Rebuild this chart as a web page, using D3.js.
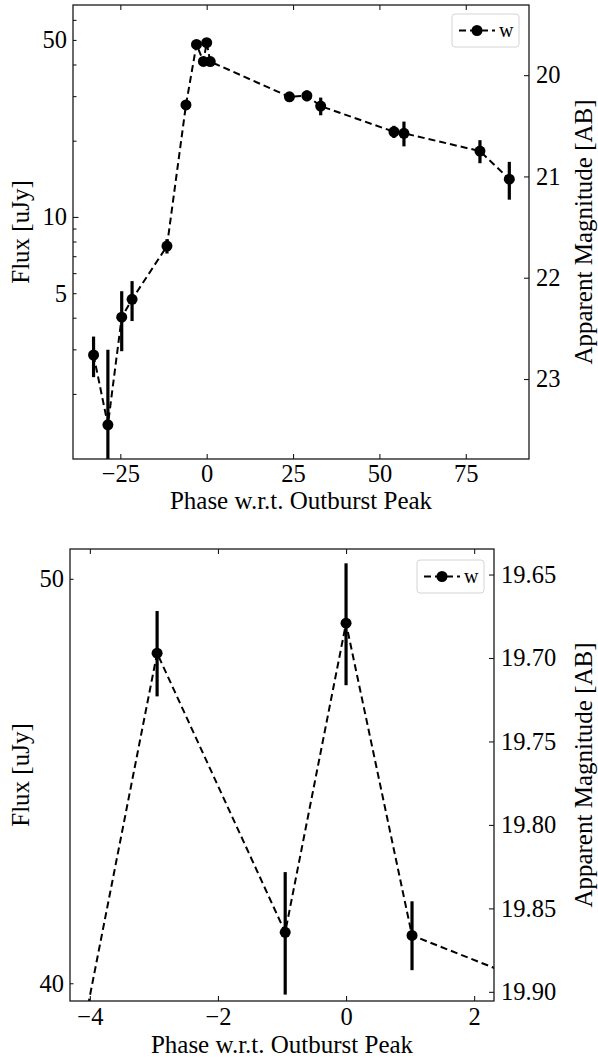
<!DOCTYPE html>
<html>
<head>
<meta charset="utf-8">
<script src="https://cdn.jsdelivr.net/npm/d3@7"></script>
<style>
  body { margin: 0; background: #fff; }
  svg text { font-family: "Liberation Serif", "Times New Roman", serif; fill: #000; }
</style>
</head>
<body>
<svg id="chart" width="598" height="1058"></svg>
<script>
// w-band light curve around the outburst (phase in days, flux in uJy)
const phase   = [-32.75, -28.6, -24.6, -21.6, -11.5, -6.0, -2.95, -0.95, 0.0, 1.03, 23.95, 29.0, 33.0, 54.2, 57.1, 79.1, 87.6];
const flux    = [2.85, 1.51, 4.02, 4.73, 7.67, 27.7, 47.99, 41.14, 48.79, 41.07, 29.8, 30.1, 27.4, 21.7, 21.4, 18.2, 14.1];
const fluxErr = [0.52, 1.48, 1.07, 0.85, 0.5, 0.9, 1.13, 1.39, 1.64, 0.78, 0.8, 1.5, 2.2, 1.2, 2.4, 1.9, 2.4];
const bandLabel = "w";

// full light curve panel
const xTicksFull = [-25, 0, 25, 50, 75];
const fluxTicksFull = [2, 3, 4, 5, 6, 7, 8, 9, 10, 20, 30, 40, 50, 60];
const fluxLabelsFull = [5, 10, 50];
const fluxMajorFull = [10];
const magTicksFull = [20, 21, 22, 23];

// zoom on the peak
const xTicksPeak = [-4, -2, 0, 2];
const fluxTicksPeak = [40, 50];
const fluxLabelsPeak = [40, 50];
const fluxMajorPeak = [];
const magTicksPeak = [19.65, 19.70, 19.75, 19.80, 19.85, 19.90];

const ZP = 23.9; // AB zero point for uJy
const toMag = f => ZP - 2.5 * Math.log10(f);

const data = phase.map((p, i) => ({ p, f: flux[i], e: fluxErr[i] }));

const panels = [
  { id: "full", box: { l: 73, r: 529, t: 5, b: 459 }, xDom: [-38.7, 93.3], yDom: [1.107, 68.7],
    xTicks: xTicksFull, yTicks: fluxTicksFull, yLabels: fluxLabelsFull, yMajor: fluxMajorFull,
    magTicks: magTicksFull, magFmt: d3.format("d"), xTickPad: 6, xLabelY: 509, legend: { x: 452, y: 14 } },
  { id: "peak", box: { l: 70, r: 494, t: 549, b: 1001 }, xDom: [-4.31, 2.31], yDom: [39.61, 50.83],
    xTicks: xTicksPeak, yTicks: fluxTicksPeak, yLabels: fluxLabelsPeak, yMajor: fluxMajorPeak,
    magTicks: magTicksPeak, magFmt: d3.format(".2f"), xTickPad: 7, xLabelY: 1053, legend: { x: 417, y: 560 } }
];

const svg = d3.select("#chart");
const FS = 24.5;     // tick labels
const FS_T = 25;     // axis titles
const ink = "#1a1a1a";

function styleAxis(g) {
  g.select(".domain").remove();
  g.selectAll(".tick line").attr("stroke", ink).attr("stroke-width", 1.1);
  g.selectAll(".tick text").attr("font-size", FS).attr("fill", "#000")
    .style("font-family", '"Liberation Serif", "Times New Roman", serif');
}

panels.forEach(pn => {
  const { l, r, t, b } = pn.box;
  const x = d3.scaleLinear().domain(pn.xDom).range([l, r]);
  const y = d3.scaleLog().domain(pn.yDom).range([b, t]);
  const m = d3.scaleLinear().domain([toMag(pn.yDom[0]), toMag(pn.yDom[1])]).range([b, t]);

  const g = svg.append("g");
  const clipId = "clip-" + pn.id;
  svg.append("clipPath").attr("id", clipId)
    .append("rect").attr("x", l).attr("y", t).attr("width", r - l).attr("height", b - t);

  const plot = g.append("g").attr("clip-path", `url(#${clipId})`);

  // dashed connecting line
  const line = d3.line().x(d => x(d.p)).y(d => y(d.f));
  plot.append("path").datum(data)
    .attr("d", line).attr("fill", "none").attr("stroke", "#000")
    .attr("stroke-width", 2).attr("stroke-dasharray", "7,4");

  // error bars
  plot.selectAll("line.err").data(data).join("line").attr("class", "err")
    .attr("x1", d => x(d.p)).attr("x2", d => x(d.p))
    .attr("y1", d => y(d.f + d.e))
    .attr("y2", d => (d.f - d.e > 0 ? y(d.f - d.e) : b + 50))
    .attr("stroke", "#000").attr("stroke-width", 3.2);

  // markers
  plot.selectAll("circle.pt").data(data).join("circle").attr("class", "pt")
    .attr("cx", d => x(d.p)).attr("cy", d => y(d.f)).attr("r", 5.5).attr("fill", "#000");

  // axes with inward ticks on all four sides
  const minorVals = pn.yTicks.filter(v => !pn.yMajor.includes(v));
  g.append("g").attr("transform", `translate(${l},0)`)
    .call(d3.axisLeft(y).tickValues(minorVals).tickSizeInner(-3.5).tickSizeOuter(0).tickPadding(6)
      .tickFormat(v => (pn.yLabels.includes(v) ? d3.format("d")(v) : "")))
    .call(styleAxis);
  if (pn.yMajor.length) {
    g.append("g").attr("transform", `translate(${l},0)`)
      .call(d3.axisLeft(y).tickValues(pn.yMajor).tickSizeInner(-5.5).tickSizeOuter(0).tickPadding(6)
        .tickFormat(d3.format("d")))
      .call(styleAxis);
  }
  g.append("g").attr("transform", `translate(0,${b})`)
    .call(d3.axisBottom(x).tickValues(pn.xTicks).tickSizeInner(-5).tickSizeOuter(0).tickPadding(pn.xTickPad)
      .tickFormat(d3.format("d")))
    .call(styleAxis);
  g.append("g").attr("transform", `translate(0,${t})`)
    .call(d3.axisTop(x).tickValues(pn.xTicks).tickSizeInner(-5).tickSizeOuter(0).tickFormat(""))
    .call(styleAxis);
  g.append("g").attr("transform", `translate(${r},0)`)
    .call(d3.axisRight(m).tickValues(pn.magTicks).tickSizeInner(-5).tickSizeOuter(0).tickPadding(7)
      .tickFormat(pn.magFmt))
    .call(styleAxis);

  // frame
  g.append("rect").attr("x", l).attr("y", t).attr("width", r - l).attr("height", b - t)
    .attr("fill", "none").attr("stroke", ink).attr("stroke-width", 1.3);

  // axis titles
  const cy = (t + b) / 2;
  g.append("text").attr("transform", `translate(20,${cy}) rotate(-90)`)
    .attr("text-anchor", "middle").attr("dominant-baseline", "central")
    .attr("font-size", FS_T).text("Flux [uJy]");
  g.append("text").attr("transform", `translate(583,${cy}) rotate(-90)`)
    .attr("text-anchor", "middle").attr("dominant-baseline", "central")
    .attr("font-size", FS_T).text("Apparent Magnitude [AB]");
  g.append("text").attr("x", (l + r) / 2).attr("y", pn.xLabelY)
    .attr("text-anchor", "middle").attr("font-size", FS_T).text("Phase w.r.t. Outburst Peak");

  // legend
  const lg = g.append("g").attr("transform", `translate(${pn.legend.x},${pn.legend.y})`);
  lg.append("rect").attr("width", 67).attr("height", 33).attr("rx", 3)
    .attr("fill", "#fff").attr("fill-opacity", 0.85).attr("stroke", "#d4d4d4").attr("stroke-width", 1);
  lg.append("line").attr("x1", 7).attr("x2", 43).attr("y1", 16.5).attr("y2", 16.5)
    .attr("stroke", "#000").attr("stroke-width", 2).attr("stroke-dasharray", "7,4");
  lg.append("circle").attr("cx", 25).attr("cy", 16.5).attr("r", 5.5).attr("fill", "#000");
  lg.append("text").attr("x", 47).attr("y", 22.5).attr("font-size", 20).text(bandLabel);
});
</script>
</body>
</html>
